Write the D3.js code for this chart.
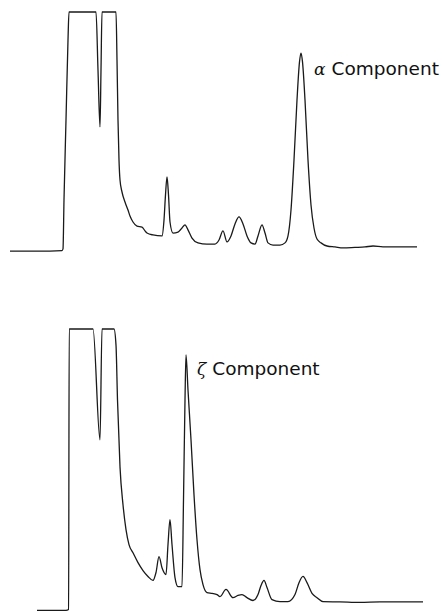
<!DOCTYPE html>
<html>
<head>
<meta charset="utf-8">
<script src="https://cdn.jsdelivr.net/npm/d3@7"></script>
<style>
  html, body { margin: 0; padding: 0; background: #fff; }
  svg { display: block; }
  .trace { fill: none; stroke: #1a1a1a; stroke-width: 1.3; stroke-linejoin: round; }
  .label { font-family: "DejaVu Sans", sans-serif; font-size: 18.5px; fill: #111; }
  .greek { font-family: "DejaVu Serif", serif; font-style: italic; font-size: 17px; }
</style>
</head>
<body>
<svg id="chart" width="442" height="612"></svg>
<script>
// elution time (min) and absorbance (off-scale clipped at 1.0)
const alphaTime = [0, 2, 4, 5.2, 5.3, 5.4, 5.6, 5.8, 5.9, 8.6, 8.8, 9.0, 9.1, 9.2, 10.6, 10.7, 10.8, 10.9, 11.0, 11.2,
  11.5, 11.8, 12.0, 12.3, 12.7, 13.2, 13.5, 13.7, 14.3, 15.2, 15.4, 15.55, 15.7, 15.85, 16.0, 16.3, 16.8, 17.2, 17.5, 17.8,
  18.2, 18.8, 19.7, 20.5, 20.9, 21.3, 21.7, 22.1, 22.5, 22.9, 23.3, 23.7, 24.1, 24.5, 24.8, 25.2, 25.5, 25.8, 26.3, 27.0,
  27.5, 27.8, 28.1, 28.4, 28.7, 28.95, 29.1, 29.25, 29.5, 29.8, 30.1, 30.4, 30.7, 31.1, 31.7, 32.5, 33.3, 34.5, 35.5, 36.3,
  37.3, 38.5, 39.5, 40.7];
const alphaAbs = [0.004, 0.004, 0.004, 0.006, 0.013, 0.217, 0.55, 0.883, 1.0, 1.0, 0.758, 0.521, 0.758, 1.0, 1.0, 0.8, 0.55, 0.383, 0.3, 0.25,
  0.208, 0.175, 0.15, 0.125, 0.108, 0.104, 0.088, 0.079, 0.071, 0.067, 0.133, 0.238, 0.313, 0.238, 0.125, 0.079, 0.083, 0.1, 0.113, 0.092,
  0.058, 0.038, 0.033, 0.033, 0.05, 0.088, 0.042, 0.067, 0.117, 0.146, 0.117, 0.067, 0.038, 0.033, 0.067, 0.113, 0.079, 0.038, 0.029, 0.029,
  0.038, 0.067, 0.175, 0.383, 0.633, 0.792, 0.829, 0.792, 0.633, 0.383, 0.196, 0.1, 0.054, 0.038, 0.025, 0.021, 0.017, 0.019, 0.021, 0.025,
  0.021, 0.021, 0.021, 0.021];

const zetaTime = [2.7, 4.5, 5.6, 5.86, 5.92, 8.3, 9.0, 9.2, 10.4, 10.6, 10.75, 11.0, 11.3, 11.6, 11.9, 12.3, 12.8, 13.3, 13.8, 14.3,
  14.6, 14.9, 15.2, 15.6, 15.8, 16.0, 16.2, 16.5, 16.8, 17.2, 17.35, 17.5, 17.6, 17.8, 18.1, 18.4, 18.7, 19.0, 19.3, 19.7,
  20.2, 20.7, 21.0, 21.6, 22.3, 22.8, 23.2, 23.7, 24.3, 24.8, 25.1, 25.4, 25.7, 26.2, 27.0, 27.8, 28.5, 28.9, 29.3, 29.7,
  30.2, 30.7, 31.3, 33.0, 35.0, 37.0, 39.0, 41.3];
const zetaAbs = [0.004, 0.004, 0.004, 0.007, 1.0, 1.0, 0.608, 1.0, 1.0, 0.943, 0.749, 0.512, 0.378, 0.29, 0.237, 0.208, 0.173, 0.145, 0.124, 0.11,
  0.138, 0.194, 0.155, 0.131, 0.237, 0.325, 0.237, 0.12, 0.088, 0.088, 0.396, 0.749, 0.908, 0.784, 0.608, 0.413, 0.254, 0.148, 0.095, 0.067,
  0.064, 0.06, 0.053, 0.078, 0.049, 0.057, 0.06, 0.049, 0.039, 0.06, 0.092, 0.11, 0.085, 0.042, 0.035, 0.035, 0.06, 0.102, 0.124, 0.102,
  0.064, 0.049, 0.035, 0.034, 0.032, 0.034, 0.034, 0.034];

const alphaLabel = ["α", "Component"];
const zetaLabel = ["ζ", "Component"];

const svg = d3.select("#chart");

// shared time axis, separate absorbance scale per trace
const x = d3.scaleLinear([0, 41], [10, 420]);
const yTop = d3.scaleLinear([0, 1], [252, 12]);
const yBottom = d3.scaleLinear([0, 1], [611.5, 329]);

const drawTrace = (times, abs, y) => {
  const line = d3.line()
    .x((d, i) => x(times[i]))
    .y(d => y(d))
    .curve(d3.curveMonotoneX);
  svg.append("path")
    .attr("class", "trace")
    .attr("d", line(abs));
};

drawTrace(alphaTime, alphaAbs, yTop);
drawTrace(zetaTime, zetaAbs, yBottom);

// peak labels, placed beside the peak they name
const addLabel = (parts, t, a, y, dx, dy) => {
  const txt = svg.append("text")
    .attr("class", "label")
    .attr("x", x(t) + dx)
    .attr("y", y(a) + dy);
  txt.append("tspan").attr("class", "greek").text(parts[0]);
  txt.append("tspan").attr("dx", 6).text(parts[1]);
};

addLabel(alphaLabel, 29.1, 0.829, yTop, 13, 22);
addLabel(zetaLabel, 17.6, 0.908, yBottom, 11, 20);
</script>
</body>
</html>
